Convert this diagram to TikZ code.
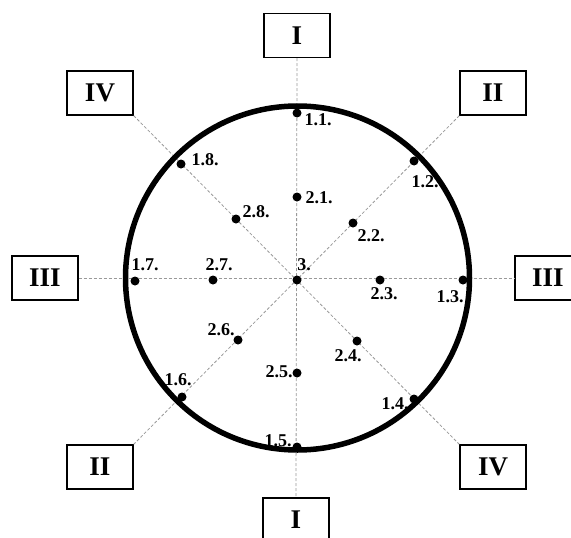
\documentclass[tikz,border=0pt]{standalone}
\usepackage{fontspec}
\setmainfont{Liberation Serif}
\usepackage{tikz}
\usetikzlibrary{calc,positioning}

\begin{document}
\begin{tikzpicture}[x=1pt,y=-1pt,
  punto/.style={circle,fill=black,inner sep=0pt,minimum size=9pt},
  etiqueta/.style={font=\bfseries\fontsize{18}{18}\selectfont,inner sep=0pt},
  caja/.style={draw,line width=1.3pt,minimum width=66pt,minimum height=44pt,inner sep=0pt,
    font=\bfseries\fontsize{27}{27}\selectfont},
  eje/.style={gray!80,line width=0.8pt,dash pattern=on 3pt off 2pt}]
\clip (0,0) rectangle (571,538);
\useasboundingbox (0,0) rectangle (571,538);

%====================================================
% CAJAS DE LOS EJES
%====================================================
\node[caja] (Iarr) at (297,35.5) {I};
\node[caja] (Iaba) at (296,520) {I};
\node[caja] (IIIizq) at (45,278) {III};
\node[caja] (IIIder) at (548,278) {III};
\node[caja] (IVarr) at (100,93) {IV};
\node[caja] (IIarr) at (493,93) {II};
\node[caja] (IIaba) at (100,467) {II};
\node[caja] (IVaba) at (493,467) {IV};

%====================================================
% EJES DISCONTINUOS
%====================================================
\draw[eje] (Iarr.south) -- (Iaba.north);
\draw[eje] (IIIizq.east) -- (IIIder.west);
\draw[eje] (IVarr.south east) -- (IVaba.north west);
\draw[eje] (IIarr.south west) -- (IIaba.north east);

% circulo exterior
\node[circle,draw,line width=5.5pt,minimum size=344pt,inner sep=0pt] (borde) at (297.5,278) {};

%====================================================
% PUNTOS
%====================================================
\node[punto] (p3) at (297,280) {};
\node[punto] (p11) at (297,113) {};
\node[punto] (p12) at (414,161) {};
\node[punto] (p13) at (463,280) {};
\node[punto] (p14) at (414,399) {};
\node[punto] (p15) at (297,447) {};
\node[punto] (p16) at (182,397) {};
\node[punto] (p17) at (135,281) {};
\node[punto] (p18) at (181,164) {};
\node[punto] (p21) at (297,197) {};
\node[punto] (p22) at (353,223) {};
\node[punto] (p23) at (380,280) {};
\node[punto] (p24) at (357,341) {};
\node[punto] (p25) at (297,373) {};
\node[punto] (p26) at (238,340) {};
\node[punto] (p27) at (213,280) {};
\node[punto] (p28) at (236,219) {};

% etiquetas
\node[etiqueta] (e3) at (304,265) {3.};
\node[etiqueta] (e11) at (318,120) {1.1.};
\node[etiqueta] (e12) at (425,182) {1.2.};
\node[etiqueta] (e13) at (450,297) {1.3.};
\node[etiqueta] (e14) at (395,404) {1.4.};
\node[etiqueta] (e15) at (278,441) {1.5.};
\node[etiqueta] (e16) at (178,380) {1.6.};
\node[etiqueta] (e17) at (145,265) {1.7.};
\node[etiqueta] (e18) at (205,160) {1.8.};
\node[etiqueta] (e21) at (319,198) {2.1.};
\node[etiqueta] (e22) at (371,236) {2.2.};
\node[etiqueta] (e23) at (384,294) {2.3.};
\node[etiqueta] (e24) at (348,356) {2.4.};
\node[etiqueta] (e25) at (279,372) {2.5.};
\node[etiqueta] (e26) at (221,330) {2.6.};
\node[etiqueta] (e27) at (219,265) {2.7.};
\node[etiqueta] (e28) at (256,212) {2.8.};
\end{tikzpicture}
\end{document}
